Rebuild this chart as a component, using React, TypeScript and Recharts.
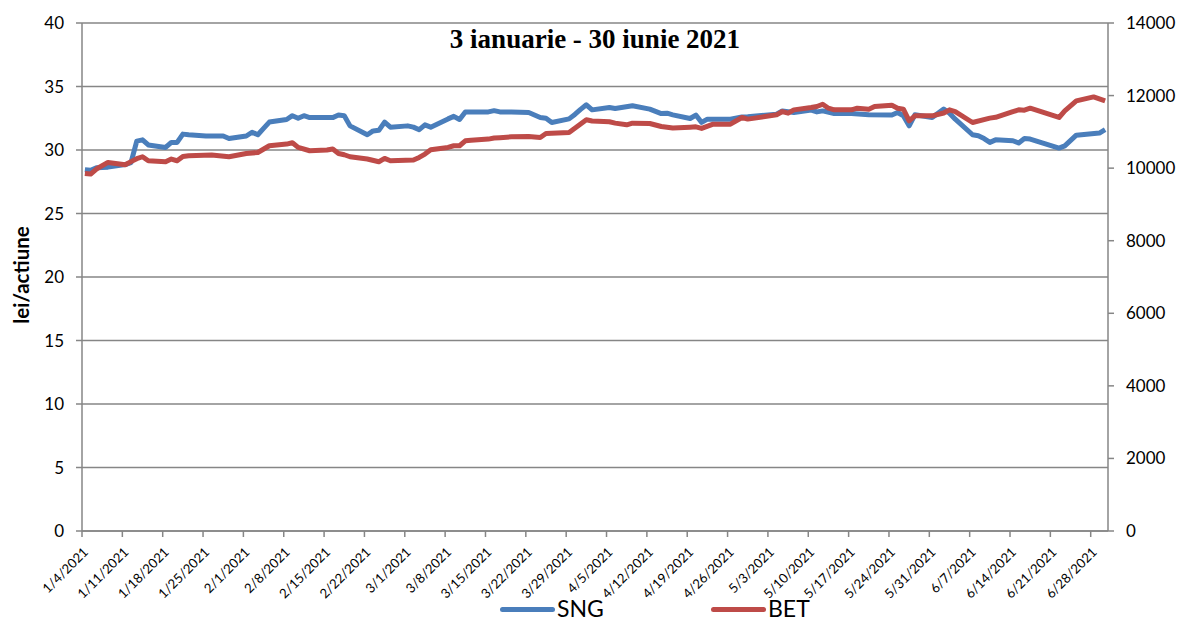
import React from "react";
import { LineChart, Line, XAxis, YAxis, CartesianGrid } from "recharts";

// SNG share price (lei/actiune), trading-day vertices
const sngDates = [
  "2021-01-04","2021-01-05","2021-01-06","2021-01-08","2021-01-11","2021-01-12","2021-01-13","2021-01-14","2021-01-15",
  "2021-01-18","2021-01-19","2021-01-20","2021-01-21","2021-01-22","2021-01-25","2021-01-28","2021-01-29",
  "2021-02-01","2021-02-02","2021-02-03","2021-02-04","2021-02-05","2021-02-08","2021-02-09","2021-02-10","2021-02-11","2021-02-12",
  "2021-02-16","2021-02-17","2021-02-18","2021-02-19","2021-02-22","2021-02-23","2021-02-24","2021-02-25","2021-02-26",
  "2021-03-01","2021-03-02","2021-03-03","2021-03-04","2021-03-05","2021-03-08","2021-03-09","2021-03-10","2021-03-11",
  "2021-03-15","2021-03-16","2021-03-17","2021-03-19","2021-03-22","2021-03-24","2021-03-25","2021-03-26",
  "2021-03-29","2021-03-30","2021-03-31","2021-04-01","2021-04-02","2021-04-05","2021-04-06","2021-04-09",
  "2021-04-12","2021-04-14","2021-04-15","2021-04-16","2021-04-19","2021-04-20","2021-04-21","2021-04-22",
  "2021-04-26","2021-04-28","2021-04-29","2021-05-04","2021-05-05","2021-05-07","2021-05-10","2021-05-11","2021-05-12","2021-05-14",
  "2021-05-17","2021-05-20","2021-05-24","2021-05-25","2021-05-26","2021-05-27","2021-05-28",
  "2021-05-31","2021-06-02","2021-06-03","2021-06-04","2021-06-07","2021-06-08","2021-06-09","2021-06-10","2021-06-11",
  "2021-06-14","2021-06-15","2021-06-16","2021-06-17","2021-06-22","2021-06-23","2021-06-25","2021-06-29","2021-06-30",
];
const sngValues = [
  28.45, 28.4, 28.6, 28.65, 28.85, 29.0, 30.7, 30.8, 30.4,
  30.2, 30.6, 30.6, 31.25, 31.2, 31.1, 31.1, 30.9,
  31.1, 31.4, 31.2, 31.7, 32.2, 32.4, 32.7, 32.5, 32.7, 32.55,
  32.55, 32.75, 32.7, 31.9, 31.2, 31.5, 31.55, 32.2, 31.8,
  31.9, 31.8, 31.6, 31.98, 31.8, 32.45, 32.65, 32.4, 33.0,
  33.0, 33.1, 33.0, 33.0, 32.95, 32.56, 32.5, 32.17,
  32.45, 32.8, 33.2, 33.56, 33.16, 33.35, 33.27, 33.48,
  33.22, 32.87, 32.9, 32.77, 32.48, 32.75, 32.17, 32.43,
  32.43, 32.6, 32.62, 32.82, 33.08, 32.95, 33.14, 33.0, 33.08, 32.87,
  32.87, 32.77, 32.75, 32.95, 32.7, 31.9, 32.77,
  32.56, 33.22, 32.9, 32.43, 31.2, 31.12, 30.9, 30.6, 30.8,
  30.73, 30.55, 30.9, 30.86, 30.15, 30.33, 31.17, 31.33, 31.6,
];

// BET index, trading-day vertices
const betDates = [
  "2021-01-04","2021-01-05","2021-01-06","2021-01-08","2021-01-11","2021-01-12","2021-01-13","2021-01-14","2021-01-15",
  "2021-01-18","2021-01-19","2021-01-20","2021-01-21","2021-01-22","2021-01-26","2021-01-29",
  "2021-02-01","2021-02-03","2021-02-05","2021-02-08","2021-02-09","2021-02-10","2021-02-12",
  "2021-02-15","2021-02-16","2021-02-17","2021-02-18","2021-02-19","2021-02-22","2021-02-24","2021-02-25","2021-02-26",
  "2021-03-02","2021-03-03","2021-03-04","2021-03-05","2021-03-08","2021-03-09","2021-03-10","2021-03-11","2021-03-12",
  "2021-03-15","2021-03-16","2021-03-17","2021-03-19","2021-03-22","2021-03-24","2021-03-25","2021-03-29",
  "2021-04-01","2021-04-02","2021-04-05","2021-04-06","2021-04-08","2021-04-09","2021-04-12","2021-04-14","2021-04-16",
  "2021-04-19","2021-04-20","2021-04-21","2021-04-23","2021-04-26","2021-04-28","2021-04-29",
  "2021-05-04","2021-05-05","2021-05-06","2021-05-07","2021-05-10","2021-05-11","2021-05-12","2021-05-13","2021-05-14",
  "2021-05-17","2021-05-18","2021-05-20","2021-05-21","2021-05-24","2021-05-25","2021-05-26","2021-05-27","2021-05-28",
  "2021-05-31","2021-06-02","2021-06-03","2021-06-04","2021-06-07","2021-06-10","2021-06-11",
  "2021-06-14","2021-06-15","2021-06-16","2021-06-17","2021-06-22","2021-06-23","2021-06-25","2021-06-28","2021-06-30",
];
const betValues = [
  9855, 9838, 9976, 10158, 10094, 10180, 10260, 10314, 10204,
  10177, 10251, 10204, 10323, 10342, 10361, 10314,
  10405, 10432, 10617, 10663, 10700, 10571, 10479,
  10498, 10526, 10405, 10369, 10314, 10251, 10177, 10268, 10204,
  10223, 10296, 10388, 10507, 10571, 10617, 10617, 10754, 10770,
  10800, 10830, 10840, 10864, 10873, 10846, 10956, 10983,
  11332, 11300, 11277, 11240, 11194, 11240, 11231, 11148, 11104,
  11130, 11140, 11094, 11213, 11213, 11396, 11351,
  11469, 11560, 11515, 11606, 11670, 11700, 11762, 11652, 11606,
  11606, 11652, 11624, 11697, 11735, 11652, 11624, 11304, 11442,
  11442, 11520, 11606, 11560, 11258, 11378, 11400,
  11560, 11606, 11597, 11652, 11396, 11578, 11854, 11964, 11854,
];

const leftTicks = [0, 5, 10, 15, 20, 25, 30, 35, 40];
const rightTicks = [0, 2000, 4000, 6000, 8000, 10000, 12000, 14000];
const weekTickLabels = [
  "1/4/2021","1/11/2021","1/18/2021","1/25/2021","2/1/2021","2/8/2021","2/15/2021","2/22/2021",
  "3/1/2021","3/8/2021","3/15/2021","3/22/2021","3/29/2021","4/5/2021","4/12/2021","4/19/2021",
  "4/26/2021","5/3/2021","5/10/2021","5/17/2021","5/24/2021","5/31/2021","6/7/2021","6/14/2021",
  "6/21/2021","6/28/2021",
];

const START = Date.UTC(2021, 0, 4);
const DAY = 86400000;
const dayIndex = (iso: string) => {
  const [y, m, d] = iso.split("-").map(Number);
  return Math.round((Date.UTC(y, m - 1, d) - START) / DAY);
};
const tickDays = weekTickLabels.map((_, i) => i * 7);

const sngData = sngDates.map((d, i) => ({ x: dayIndex(d) + 0.5, v: sngValues[i] }));
const betData = betDates.map((d, i) => ({ x: dayIndex(d) + 0.5, v: betValues[i] }));

const FONT = "Lato, 'Liberation Sans', sans-serif";
const GREY = "#868686";

const XTick = (props: any) => {
  const { x, y, payload } = props;
  const idx = Math.round(payload.value / 7);
  return (
    <g transform={`translate(${x + 7},${y + 14})`}>
      <text x={0} y={0} textAnchor="end" transform="rotate(-45)" fontSize={13.2} fontFamily={FONT} fill="#000">
        {weekTickLabels[idx]}
      </text>
    </g>
  );
};

export default function App() {
  return (
    <div style={{ position: "absolute", left: 0, top: 0, width: 1185, height: 620, background: "#fff" }}>
      <LineChart width={1185} height={620} margin={{ top: 23, right: 0, bottom: 0, left: 22 }}>
        <CartesianGrid yAxisId="left" vertical={false} stroke={GREY} strokeWidth={1.5} />
        <XAxis
          dataKey="x"
          type="number"
          domain={[0, 178]}
          ticks={tickDays}
          allowDataOverflow
          height={89}
          stroke={GREY}
          strokeWidth={1.5}
          tickSize={6}
          tick={<XTick />}
          interval={0}
        />
        <YAxis
          yAxisId="left"
          domain={[0, 40]}
          ticks={leftTicks}
          width={60}
          stroke={GREY}
          strokeWidth={1.5}
          tickSize={6}
          tickMargin={12}
          tick={{ fill: "#000", fontSize: 17, fontFamily: FONT }}
          interval={0}
        />
        <YAxis
          yAxisId="right"
          orientation="right"
          domain={[0, 14000]}
          ticks={rightTicks}
          width={77}
          stroke={GREY}
          strokeWidth={1.5}
          tickSize={6}
          tickMargin={12}
          tick={{ fill: "#000", fontSize: 17, fontFamily: FONT }}
          interval={0}
        />
        <Line
          yAxisId="left"
          data={sngData}
          dataKey="v"
          name="SNG"
          stroke="#4A7EBB"
          strokeWidth={5}
          dot={false}
          activeDot={false}
          strokeLinejoin="round"
          isAnimationActive={false}
        />
        <Line
          yAxisId="right"
          data={betData}
          dataKey="v"
          name="BET"
          stroke="#BE4B48"
          strokeWidth={5}
          dot={false}
          activeDot={false}
          strokeLinejoin="round"
          isAnimationActive={false}
        />
      </LineChart>
      <div
        style={{
          position: "absolute",
          left: 245,
          width: 700,
          top: 24,
          textAlign: "center",
          fontFamily: "'Liberation Serif', 'Times New Roman', serif",
          fontWeight: "bold",
          fontSize: 27,
          lineHeight: "30px",
          whiteSpace: "nowrap",
        }}
      >
        3 ianuarie - 30 iunie 2021
      </div>
      <div
        style={{
          position: "absolute",
          left: 21,
          top: 275,
          transform: "translate(-50%, -50%) rotate(-90deg)",
          fontFamily: FONT,
          fontWeight: "bold",
          fontSize: 20.5,
          whiteSpace: "nowrap",
        }}
      >
        lei/actiune
      </div>
      <div style={{ position: "absolute", left: 500, top: 607, width: 55, height: 5, borderRadius: 3, background: "#4A7EBB" }} />
      <div style={{ position: "absolute", left: 557, top: 595, fontFamily: FONT, fontSize: 23, lineHeight: "26px" }}>SNG</div>
      <div style={{ position: "absolute", left: 711, top: 607, width: 55, height: 5, borderRadius: 3, background: "#BE4B48" }} />
      <div style={{ position: "absolute", left: 768, top: 595, fontFamily: FONT, fontSize: 23, lineHeight: "26px" }}>BET</div>
    </div>
  );
}
